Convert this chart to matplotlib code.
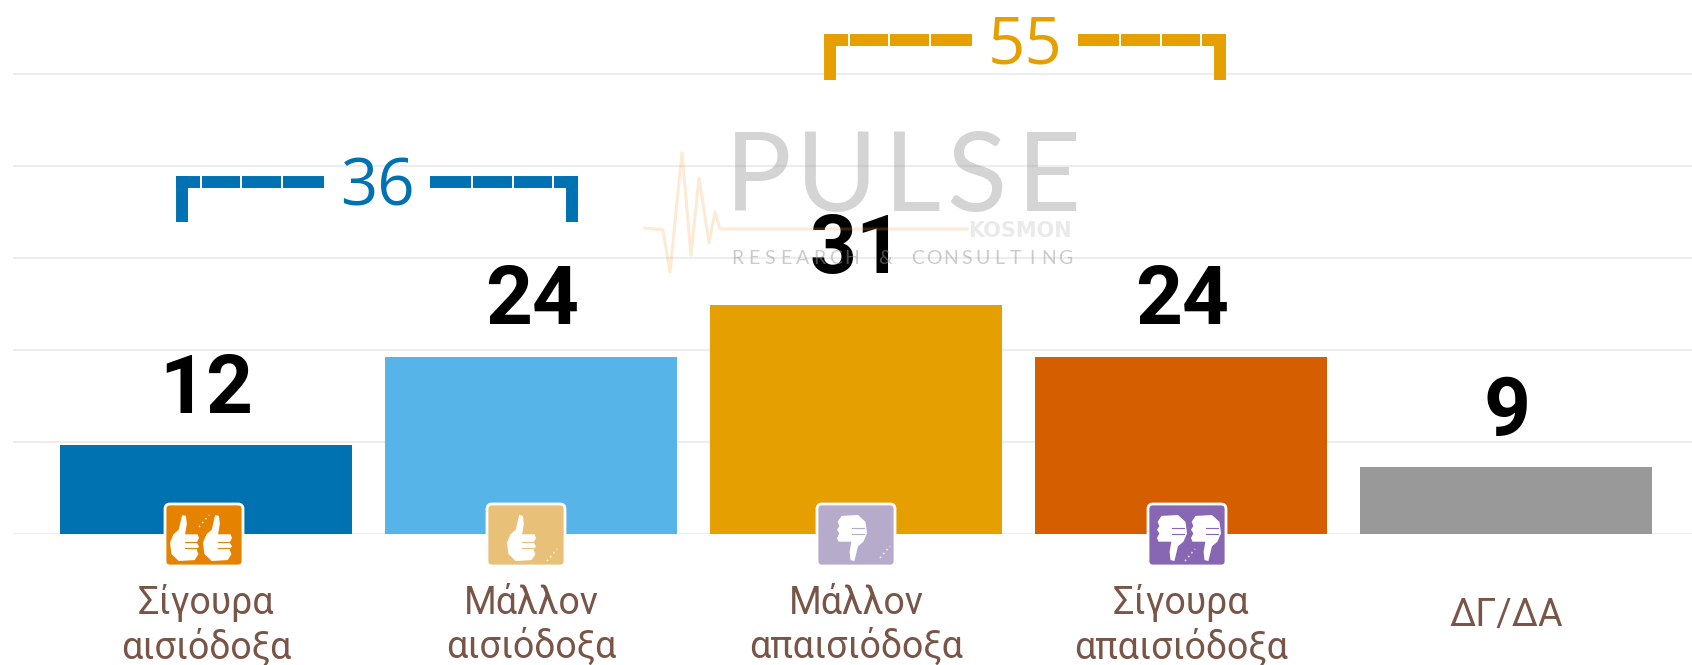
import matplotlib
matplotlib.use('Agg')
import matplotlib.pyplot as plt
from matplotlib.patches import FancyBboxPatch, Polygon
from matplotlib.transforms import Affine2D

# chart values
categories = ['Σίγουρα\nαισιόδοξα', 'Μάλλον\nαισιόδοξα', 'Μάλλον\nαπαισιόδοξα', 'Σίγουρα\nαπαισιόδοξα', 'ΔΓ/ΔΑ']
values = [12, 24, 31, 24, 9]
bar_colors = ['#0072B2', '#56B4E9', '#E69F00', '#D55E00', '#999999']
gridlines = [0, 12.5, 25, 37.5, 50, 62.5]
total_positive = 36
total_negative = 55

W, H = 1692, 665
BASE = 533.5         # pixel row of the zero line
PX_PER_UNIT = 7.355

fig = plt.figure(figsize=(W / 100, H / 100), dpi=100)
ax = fig.add_axes([13 / W, (H - BASE) / H, 1 - 13 / W, BASE / H])
ax.set_xlim((13 - 206) / 325, (W - 206) / 325)
ax.set_ylim(0, BASE / PX_PER_UNIT)
for s in ax.spines.values():
    s.set_visible(False)

ax.set_yticks(gridlines)
ax.set_yticklabels([])
ax.tick_params(axis='y', length=0)
ax.yaxis.grid(True, color='#EDEDED', lw=1.5)
ax.set_axisbelow(True)

bars = ax.bar(range(len(values)), values, width=0.9, color=bar_colors, zorder=2)

# big numbers over the bars
for b, v in zip(bars, values):
    ax.annotate(str(v), (b.get_x() + b.get_width() / 2, v), xytext=(0.5, 23.5), textcoords='offset points',
                ha='center', va='baseline', fontsize=59, fontweight='bold',
                family='Roboto', color='black', zorder=3)

# category labels
ax.set_xticks(range(len(categories)))
ax.set_xticklabels(categories, family='Roboto', fontsize=27, color='#795548', linespacing=1.2, va='center')
ax.tick_params(axis='x', length=0, pad=66)
ax.xaxis.get_major_ticks()[-1].set_pad(59)

# everything below is placed in image pixels, y going down
px = Affine2D().scale(1, -1).translate(0, H)


def bracket(x0, x1, y, color, label):
    mid = (x0 + x1) / 2
    tail = 46
    fig.add_artist(plt.Line2D([x0 + 6, x0 + 6], [y - 6, y + tail - 6], transform=px, color=color, lw=8.6, solid_capstyle='butt'))
    fig.add_artist(plt.Line2D([x1 - 6, x1 - 6], [y - 6, y + tail - 6], transform=px, color=color, lw=8.6, solid_capstyle='butt'))
    # corner piece and three dashes on each side
    for sgn, edge in ((1, x0), (-1, x1)):
        for a, b in ((0, 24), (26, 64), (66, 105), (107, 148)):
            fig.add_artist(plt.Line2D([edge + sgn * a, edge + sgn * b], [y, y], transform=px, color=color, lw=8.6, solid_capstyle='butt'))
    fig.text(mid, y + 7, label, transform=px, color=color, fontsize=47, family='Open Sans', ha='center', va='center')


bracket(176, 578, 182, '#0072B2', str(total_positive))
bracket(824, 1226, 40, '#E69F00', str(total_negative))

# thumb, unit box, pointing up
thumb = [(0.42, 0), (0.55, 0.02), (0.58, 0.2), (0.52, 0.42), (0.95, 0.42), (1, 0.5), (0.92, 0.6), (1, 0.68),
         (0.92, 0.76), (0.98, 0.85), (0.85, 0.98), (0.3, 1), (0.05, 0.85), (0, 0.6), (0.12, 0.42), (0.3, 0.32)]


def icon(x0, color, thumbs, down, spark):
    fig.add_artist(FancyBboxPatch((x0 + 5, 508), 70, 54, boxstyle='round,pad=4,rounding_size=5', transform=px,
                                  fc=color, ec='white', lw=2, zorder=5))
    for tx in thumbs:
        if down:
            pts = [(tx + 30 * (1 - p), 515 + 46 * (1 - q)) for p, q in thumb]
        else:
            pts = [(tx + 29 * p, 515 + 46 * q) for p, q in thumb]
        fig.add_artist(Polygon(pts, closed=True, transform=px, fc='white', ec='none', zorder=6))
        for k in (0.58, 0.72):
            yy = 515 + 46 * (1 - k if down else k)
            fig.add_artist(plt.Line2D([tx + 15, tx + 27], [yy, yy], transform=px, color=color, lw=0.8, zorder=7))
    # little speckle in the icon
    fig.add_artist(plt.Line2D([spark[0] - 5, spark[0] + 5], [spark[1] + 6, spark[1] - 6], transform=px, color='white',
                              alpha=0.75, lw=1.2, ls=(0, (1, 2)), zorder=7))


icon(164, '#E58200', [170, 203], False, (204, 521))
icon(486, '#E8C077', [507], False, (552, 555))
icon(816, '#B6ABCB', [837], True, (885, 552))
icon(1147, '#8767B3', [1157, 1191], True, (1190, 555))

# watermark logo
for ch, x in zip('PULSE', [758, 837, 912, 977, 1049]):
    fig.text(x, 211, ch, transform=px, fontsize=80, family='Lato', color='#999999', alpha=0.42,
             va='baseline', ha='center', zorder=8)
name = 'RESEARCH & CONSULTING'
for i, ch in enumerate(name):
    fig.text(737 + i * 328 / (len(name) - 1), 264, ch, transform=px, fontsize=14, family='Lato', color='#999999',
             alpha=0.5, va='baseline', ha='center', zorder=8)
fig.text(1072, 237, 'KOSMON', transform=px, fontsize=15, fontweight='bold', family='DejaVu Sans', color='#999999',
         alpha=0.2, va='baseline', ha='right', zorder=8)
pulse_x = [645, 663, 670, 682, 691, 699, 709, 715, 720, 967]
pulse_y = [228, 230, 272, 153, 255, 178, 243, 212, 229, 229]
fig.add_artist(plt.Line2D(pulse_x, pulse_y, transform=px, color='#F5A040', alpha=0.22, lw=2.2, zorder=8))

fig.savefig('out.png', dpi=100)
